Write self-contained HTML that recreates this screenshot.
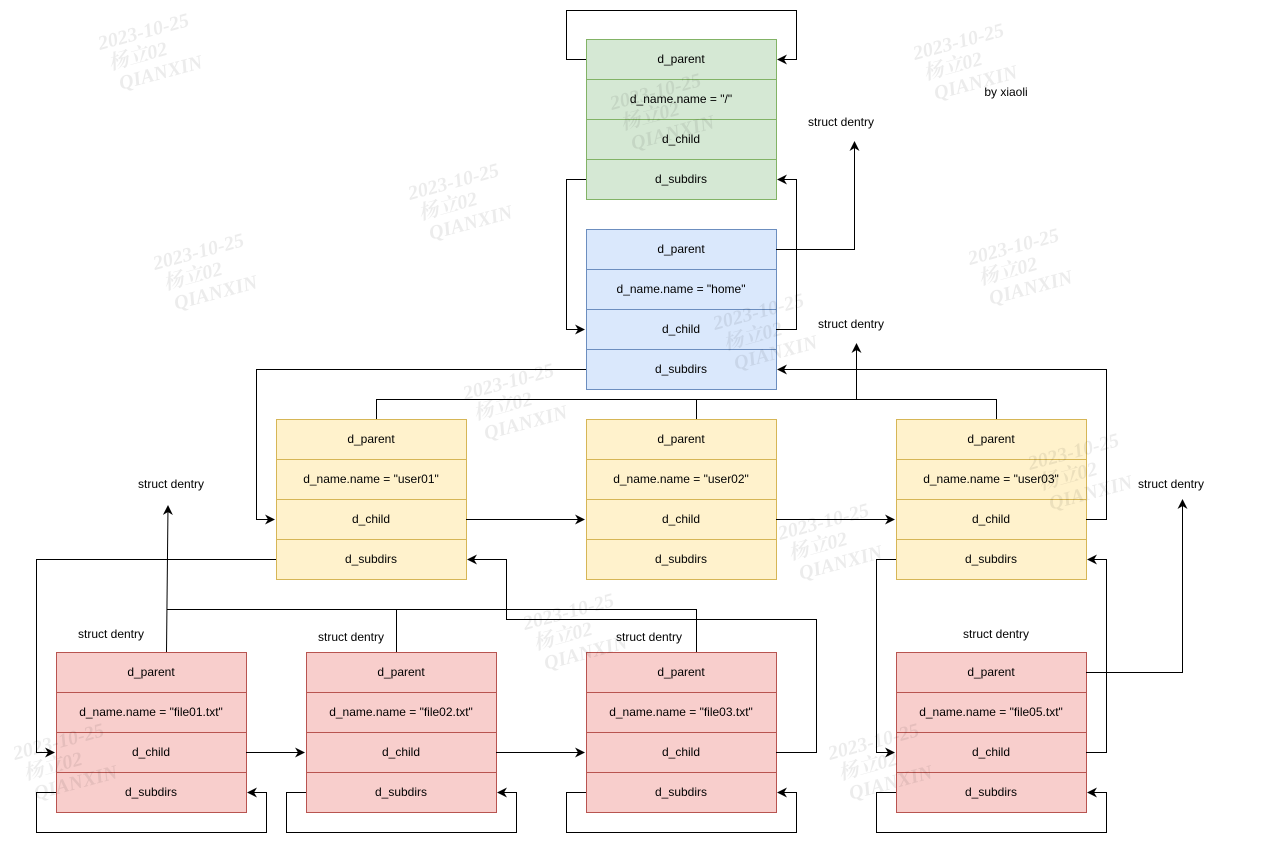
<!DOCTYPE html>
<html><head><meta charset="utf-8"><style>
html,body{margin:0;padding:0;background:#fff;}
svg{display:block;}
text{font-family:"Liberation Sans",Arial,sans-serif;font-size:12px;fill:#000;}
.wm text{font-family:"Liberation Serif","Noto Serif CJK SC",serif;font-weight:bold;font-style:italic;font-size:20px;fill:#000;fill-opacity:0.075;}
</style></head><body>
<svg width="1261" height="844" viewBox="0 0 1261 844" xmlns="http://www.w3.org/2000/svg">
<defs>
<marker id="a" viewBox="0 0 10 10" refX="9" refY="5" markerWidth="10" markerHeight="10" markerUnits="userSpaceOnUse" orient="auto">
<path d="M0,0 L10,5 L0,10 L3,5 Z" fill="#000"/>
</marker>
</defs>

<g stroke-width="1">
<g fill="#d5e8d4" stroke="#82b366">
<rect x="586.5" y="39.5" width="190" height="160"/>
<path d="M586.5 79.5H776.5M586.5 119.5H776.5M586.5 159.5H776.5" fill="none"/>
</g>
<g fill="#dae8fc" stroke="#6c8ebf">
<rect x="586.5" y="229.5" width="190" height="160"/>
<path d="M586.5 269.5H776.5M586.5 309.5H776.5M586.5 349.5H776.5" fill="none"/>
</g>
<g fill="#fff2cc" stroke="#d6b656">
<rect x="276.5" y="419.5" width="190" height="160"/>
<path d="M276.5 459.5H466.5M276.5 499.5H466.5M276.5 539.5H466.5" fill="none"/>
<rect x="586.5" y="419.5" width="190" height="160"/>
<path d="M586.5 459.5H776.5M586.5 499.5H776.5M586.5 539.5H776.5" fill="none"/>
<rect x="896.5" y="419.5" width="190" height="160"/>
<path d="M896.5 459.5H1086.5M896.5 499.5H1086.5M896.5 539.5H1086.5" fill="none"/>
</g>
<g fill="#f8cecc" stroke="#b85450">
<rect x="56.5" y="652.5" width="190" height="160"/>
<path d="M56.5 692.5H246.5M56.5 732.5H246.5M56.5 772.5H246.5" fill="none"/>
<rect x="306.5" y="652.5" width="190" height="160"/>
<path d="M306.5 692.5H496.5M306.5 732.5H496.5M306.5 772.5H496.5" fill="none"/>
<rect x="586.5" y="652.5" width="190" height="160"/>
<path d="M586.5 692.5H776.5M586.5 732.5H776.5M586.5 772.5H776.5" fill="none"/>
<rect x="896.5" y="652.5" width="190" height="160"/>
<path d="M896.5 692.5H1086.5M896.5 732.5H1086.5M896.5 772.5H1086.5" fill="none"/>
</g>
</g>

<g fill="none" stroke="#000" stroke-width="1">
<path d="M586 59.5H566.5V10.5H796.5V59.5H778" marker-end="url(#a)"/>
<path d="M586 179.5H566.5V329.5H584" marker-end="url(#a)"/>
<path d="M776 329.5H796.5V179.5H778" marker-end="url(#a)"/>
<path d="M776 249.5H854.5V142" marker-end="url(#a)"/>
<path d="M586 369.5H256.5V519.5H274" marker-end="url(#a)"/>
<path d="M376.5 419V399.5H996.5V419"/>
<path d="M696.5 419V399.5"/>
<path d="M856.5 399.5V344" marker-end="url(#a)"/>
<path d="M1086 519.5H1106.5V369.5H778" marker-end="url(#a)"/>
<path d="M466 519.5H584" marker-end="url(#a)"/>
<path d="M776 519.5H894" marker-end="url(#a)"/>
<path d="M276 559.5H36.5V752.5H54" marker-end="url(#a)"/>
<path d="M896 559.5H876.5V752.5H894" marker-end="url(#a)"/>
<path d="M166.5 652L168 506" marker-end="url(#a)"/>
<path d="M166.5 609.5H696.5V652"/>
<path d="M396.5 609.5V652"/>
<path d="M776 752.5H816.5V619.5H506.5V559.5H468" marker-end="url(#a)"/>
<path d="M246 752.5H304" marker-end="url(#a)"/>
<path d="M496 752.5H584" marker-end="url(#a)"/>
<path d="M56 792.5H36.5V832.5H266.5V792.5H248" marker-end="url(#a)"/>
<path d="M306 792.5H286.5V832.5H516.5V792.5H498" marker-end="url(#a)"/>
<path d="M586 792.5H566.5V832.5H796.5V792.5H778" marker-end="url(#a)"/>
<path d="M896 792.5H876.5V832.5H1106.5V792.5H1088" marker-end="url(#a)"/>
<path d="M1086 672.5H1182.5V500" marker-end="url(#a)"/>
<path d="M1086 752.5H1106.5V559.5H1088" marker-end="url(#a)"/>
</g>

<g text-anchor="middle">
<text x="681" y="63">d_parent</text>
<text x="681" y="103">d_name.name = "/"</text>
<text x="681" y="143">d_child</text>
<text x="681" y="183">d_subdirs</text>

<text x="681" y="253">d_parent</text>
<text x="681" y="293">d_name.name = "home"</text>
<text x="681" y="333">d_child</text>
<text x="681" y="373">d_subdirs</text>

<text x="371" y="443">d_parent</text>
<text x="371" y="483">d_name.name = "user01"</text>
<text x="371" y="523">d_child</text>
<text x="371" y="563">d_subdirs</text>

<text x="681" y="443">d_parent</text>
<text x="681" y="483">d_name.name = "user02"</text>
<text x="681" y="523">d_child</text>
<text x="681" y="563">d_subdirs</text>

<text x="991" y="443">d_parent</text>
<text x="991" y="483">d_name.name = "user03"</text>
<text x="991" y="523">d_child</text>
<text x="991" y="563">d_subdirs</text>

<text x="151" y="676">d_parent</text>
<text x="151" y="716">d_name.name = "file01.txt"</text>
<text x="151" y="756">d_child</text>
<text x="151" y="796">d_subdirs</text>

<text x="401" y="676">d_parent</text>
<text x="401" y="716">d_name.name = "file02.txt"</text>
<text x="401" y="756">d_child</text>
<text x="401" y="796">d_subdirs</text>

<text x="681" y="676">d_parent</text>
<text x="681" y="716">d_name.name = "file03.txt"</text>
<text x="681" y="756">d_child</text>
<text x="681" y="796">d_subdirs</text>

<text x="991" y="676">d_parent</text>
<text x="991" y="716">d_name.name = "file05.txt"</text>
<text x="991" y="756">d_child</text>
<text x="991" y="796">d_subdirs</text>

<text x="841" y="126">struct dentry</text>
<text x="851" y="328">struct dentry</text>
<text x="171" y="488">struct dentry</text>
<text x="1171" y="488">struct dentry</text>
<text x="111" y="638">struct dentry</text>
<text x="351" y="641">struct dentry</text>
<text x="649" y="641">struct dentry</text>
<text x="996" y="638">struct dentry</text>
<text x="1006" y="96">by xiaoli</text>
</g>

<!-- watermarks on top -->
<g class="wm">
<g transform="translate(100,50) rotate(-15)"><text x="0" y="0">2023-10-25</text><text x="5" y="22">杨立02</text><text x="10" y="44">QIANXIN</text></g>
<g transform="translate(410,200) rotate(-15)"><text x="0" y="0">2023-10-25</text><text x="5" y="22">杨立02</text><text x="10" y="44">QIANXIN</text></g>
<g transform="translate(155,270) rotate(-15)"><text x="0" y="0">2023-10-25</text><text x="5" y="22">杨立02</text><text x="10" y="44">QIANXIN</text></g>
<g transform="translate(915,60) rotate(-15)"><text x="0" y="0">2023-10-25</text><text x="5" y="22">杨立02</text><text x="10" y="44">QIANXIN</text></g>
<g transform="translate(970,265) rotate(-15)"><text x="0" y="0">2023-10-25</text><text x="5" y="22">杨立02</text><text x="10" y="44">QIANXIN</text></g>
<g transform="translate(465,400) rotate(-15)"><text x="0" y="0">2023-10-25</text><text x="5" y="22">杨立02</text><text x="10" y="44">QIANXIN</text></g>
<g transform="translate(525,630) rotate(-15)"><text x="0" y="0">2023-10-25</text><text x="5" y="22">杨立02</text><text x="10" y="44">QIANXIN</text></g>
<g transform="translate(830,760) rotate(-15)"><text x="0" y="0">2023-10-25</text><text x="5" y="22">杨立02</text><text x="10" y="44">QIANXIN</text></g>
<g transform="translate(15,760) rotate(-15)"><text x="0" y="0">2023-10-25</text><text x="5" y="22">杨立02</text><text x="10" y="44">QIANXIN</text></g>
<g transform="translate(715,330) rotate(-15)"><text x="0" y="0">2023-10-25</text><text x="5" y="22">杨立02</text><text x="10" y="44">QIANXIN</text></g>
<g transform="translate(1030,470) rotate(-15)"><text x="0" y="0">2023-10-25</text><text x="5" y="22">杨立02</text><text x="10" y="44">QIANXIN</text></g>
<g transform="translate(780,540) rotate(-15)"><text x="0" y="0">2023-10-25</text><text x="5" y="22">杨立02</text><text x="10" y="44">QIANXIN</text></g>
<g transform="translate(612,110) rotate(-15)"><text x="0" y="0">2023-10-25</text><text x="5" y="22">杨立02</text><text x="10" y="44">QIANXIN</text></g>
</g>
</svg>
</body></html>
